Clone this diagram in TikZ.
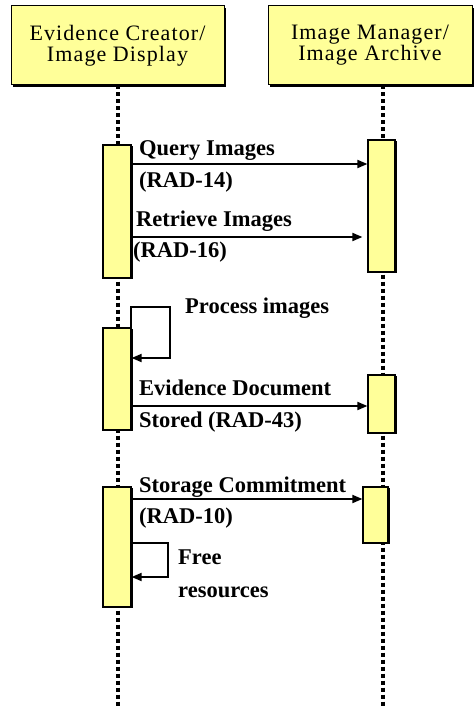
\documentclass[tikz,border=0pt]{standalone}
\usepackage{fontspec}
\setmainfont{Liberation Serif}
\usetikzlibrary{arrows.meta,shadows}
\definecolor{paleyellow}{HTML}{FFFF99}
\begin{document}
\begin{tikzpicture}[x=1pt,y=-1pt,
  header/.style={draw=black, line width=1pt, fill=paleyellow,
    general shadow={fill=black, shadow xshift=2pt, shadow yshift=-2pt},
    minimum width=#1, minimum height=79pt, inner sep=0pt, align=center,
    font=\fontsize{22}{22}\selectfont\addfontfeature{LetterSpace=5}},
  actbox/.style={draw=black, line width=1.2pt, fill=paleyellow,
    general shadow={fill=black, shadow xshift=1.5pt, shadow yshift=-1pt},
    minimum width=#1, inner sep=0pt},
  lifeline/.style={line width=4pt, dash pattern=on 4pt off 3pt},
  msg/.style={line width=1.8pt, -{Triangle[length=10pt,width=8pt]}},
  lbl/.style={anchor=base west, inner sep=0pt, font=\fontsize{22.5}{22.5}\selectfont\bfseries},
]
\useasboundingbox (0,0) rectangle (475,708);

% participants
\node[header=213pt] (h1) at (117.5,45.5) {Evidence Creator/\\[-1pt]Image Display};
\node[header=204pt] (h2) at (370,45.5) {Image Manager/\\[-1pt]Image Archive};

% lifelines
\coordinate (e1) at (118,708);
\coordinate (e2) at (383,708);
\draw[lifeline] (h1.south -| e1) -- (e1);
\draw[lifeline] (h2.south -| e2) -- (e2);

% activation bars
\node[actbox=28pt, minimum height=133pt] (la1) at (117,211.5) {};
\node[actbox=27pt, minimum height=132pt] (ra1) at (381.5,206) {};
\node[actbox=28pt, minimum height=102pt] (la2) at (117,379) {};
\node[actbox=27pt, minimum height=58pt]  (ra2) at (381.5,404) {};
\node[actbox=28pt, minimum height=120pt] (la3) at (117,547) {};
\node[actbox=25pt, minimum height=56pt]  (ra3) at (375.5,515) {};

% Query Images
\draw[msg] (la1.east |- 0,164) -- (ra1.west |- 0,164);
\node[lbl] (t1) at (139,156) {Query Images};
\node[lbl] (t1b) at (139,188) {(RAD-14)};

% Retrieve Images
\draw[msg] (la1.east |- 0,237) -- ([xshift=-5pt]ra1.west |- 0,237);
\node[lbl] (t2) at (136,227) {Retrieve Images};
\node[lbl] (t2b) at (133,258) {(RAD-16)};

% Process images (self call)
\coordinate (pl1) at (170,307);
\draw[msg] ([xshift=-1pt]la2.north east) |- (pl1) |- (la2.east |- 0,358);
\node[lbl] (t3) at (185,313) {Process images};

% Evidence Document Stored
\draw[msg] (la2.east |- 0,406) -- (ra2.west |- 0,406);
\node[lbl] (t4) at (139,395) {Evidence Document};
\node[lbl] (t4b) at (139,427) {Stored (RAD-43)};

% Storage Commitment
\draw[msg] (la3.east |- 0,499) -- (ra3.west |- 0,499);
\node[lbl] (t5) at (139,492) {Storage Commitment};
\node[lbl] (t5b) at (139,523) {(RAD-10)};

% Free resources (self call)
\coordinate (pl2) at (168,577);
\draw[msg] (la3.east |- 0,543) -| (pl2) -- (la3.east |- pl2);
\node[lbl] (t6) at (178,564) {Free};
\node[lbl] (t6b) at (178,597) {resources};
\end{tikzpicture}
\end{document}
